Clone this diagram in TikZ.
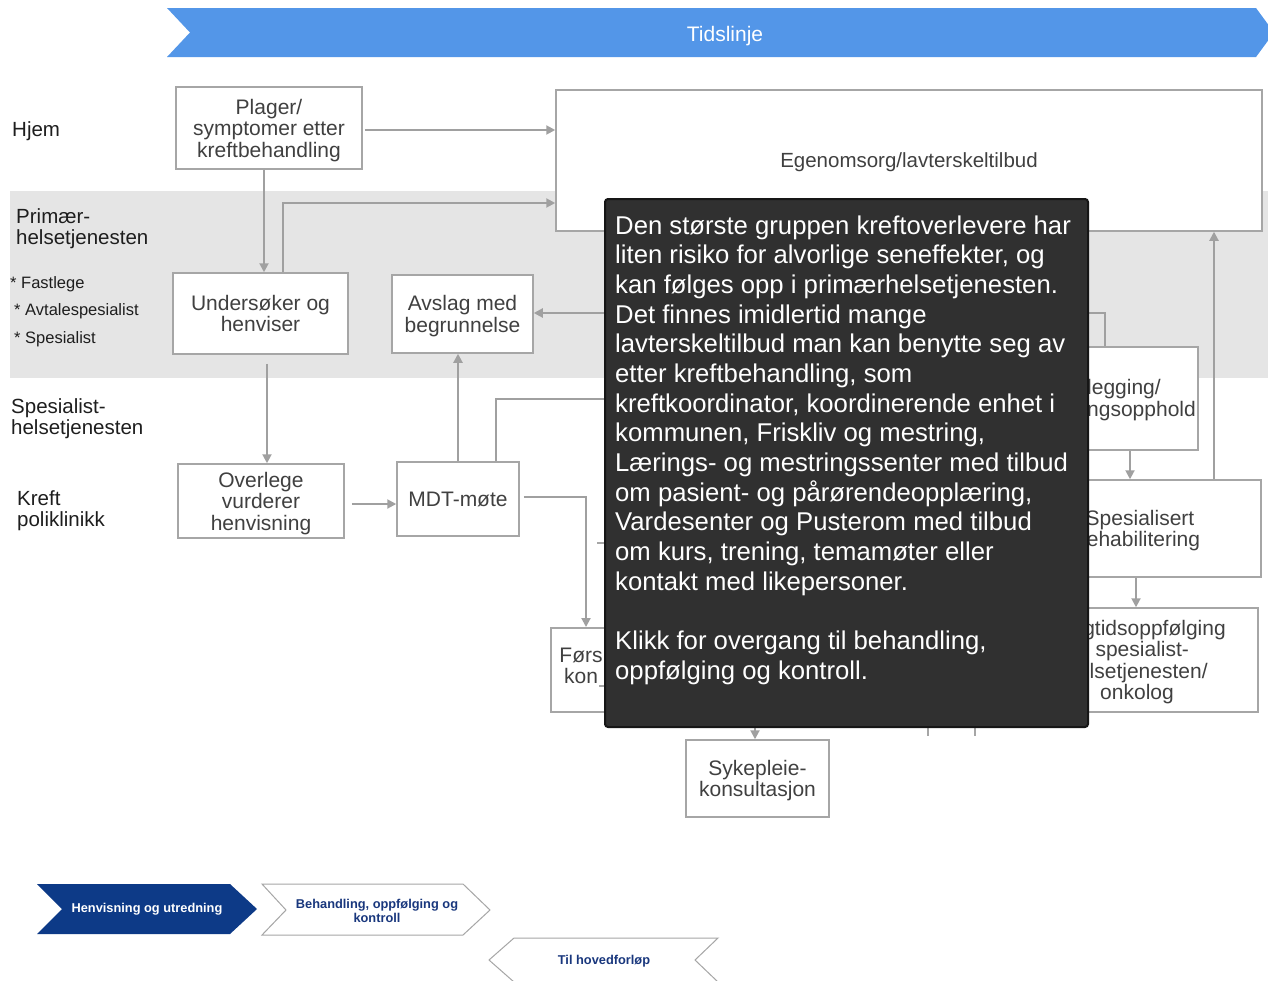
\documentclass[tikz,border=0pt]{standalone}
\usepackage{fontspec}
\setmainfont{Liberation Sans}
\usetikzlibrary{arrows.meta}
\definecolor{boxline}{RGB}{166,166,166}
\definecolor{conncol}{RGB}{160,160,160}
\definecolor{boxtext}{RGB}{64,64,64}
\definecolor{labeltext}{RGB}{30,30,30}
\definecolor{bandgray}{RGB}{229,229,229}
\definecolor{timeblue}{RGB}{83,150,232}
\definecolor{navy}{RGB}{13,58,135}
\definecolor{navytext}{RGB}{25,55,125}
\definecolor{popfill}{RGB}{48,48,48}
\definecolor{popedge}{RGB}{22,22,22}
\begin{document}
\begin{tikzpicture}[x=1pt,y=-1pt,
  box/.style={draw=boxline, line width=1.5pt, fill=white, text=boxtext,
    font=\fontsize{21}{21.5}\selectfont, align=center, inner sep=0pt, text depth=0pt},
  boxtxt/.style={text=boxtext, font=\fontsize{21}{21.5}\selectfont, inner sep=0pt},
  conn/.style={draw=conncol, line width=2pt, -{Triangle[length=9pt,width=9pt]}},
  plainline/.style={draw=conncol, line width=2pt},
  lane/.style={text=labeltext, font=\fontsize{20.5}{21.5}\selectfont, align=left, inner sep=0pt, anchor=north west},
  sublane/.style={text=labeltext, font=\fontsize{16.5}{17}\selectfont, inner sep=0pt, anchor=west},
  btntxt/.style={font=\bfseries\fontsize{12.8}{14}\selectfont, align=center, inner sep=0pt},
]
\useasboundingbox (0,0) rectangle (1268,980);
\fill[white] (0,0) rectangle (1268,980);

% swimlane band
\fill[bandgray] (10,191) rectangle (1268,378);

% timeline banner
\fill[timeblue] (167,8) -- (1256,8) -- (1274,32.5) -- (1256,57) -- (167,57) -- (190,32.5) -- cycle;
\node[text=white, font=\fontsize{21}{22}\selectfont, inner sep=0pt, text depth=0pt] (tidslinje) at (725,34) {Tidslinje};

% lane labels
\node[lane] (hjem) at (12,121) {Hjem};
\node[lane] (primaer) at (16,208) {Primær-\\helsetjenesten};
\node[sublane] (fastlege) at (10,284) {* Fastlege};
\node[sublane] (avtale) at (14,311) {* Avtalespesialist};
\node[sublane] (spesial) at (14,339) {* Spesialist};
\node[lane] (spesht) at (11,398) {Spesialist-\\helsetjenesten};
\node[lane] (kreft) at (17,490) {Kreft\\poliklinikk};

% boxes
\node[box, minimum width=186pt, minimum height=82pt] (plager) at (269,128) {Plager/\\symptomer etter\\kreftbehandling};
\node[box, minimum width=706pt, minimum height=141pt, font=\fontsize{20.5}{21.5}\selectfont] (egen) at (909,160.5) {Egenomsorg/lavterskeltilbud};
\node[box, minimum width=175pt, minimum height=81pt] (unders) at (260.5,313.5) {Undersøker og\\henviser};
\node[box, minimum width=141pt, minimum height=78pt] (avslag) at (462.5,314) {Avslag med\\begrunnelse};
\node[box, minimum width=166pt, minimum height=74pt] (over) at (261,501) {Overlege\\vurderer\\henvisning};
\node[box, minimum width=122pt, minimum height=74pt] (mdt) at (458,499) {MDT-møte};
\node[box, minimum width=130pt, minimum height=84pt, anchor=north west] (forste) at (550,627) {};
\node[boxtxt, align=center] (forstetxt) at (581,666) {Førs\\kon};
\node[box, minimum width=143pt, minimum height=77pt, text depth=-4pt] (syk) at (757.5,778.5) {Sykepleie-\\konsultasjon};
\node[box, minimum width=198pt, minimum height=103pt] (legg) at (1099,398.5) {};
\node[boxtxt, align=left, anchor=west] (leggtxt) at (1087,400) {legging/\\ngsopphold};
\node[box, minimum width=242pt, minimum height=97pt] (spes) at (1140,528.5) {Spesialisert\\rehabilitering};
\node[box, minimum width=242pt, minimum height=104pt] (lang) at (1137,660) {Langtidsoppfølging\\i spesialist-\\helsetjenesten/\\onkolog};

% connectors
\draw[conn] ([xshift=2pt,yshift=-2pt]plager.east) -- ([yshift=-2pt]plager.east -| egen.west);
\draw[conn] ([xshift=-5pt]plager.south) -- ([xshift=-5pt]plager.south |- unders.north);
\draw[conn] ([xshift=22.5pt]unders.north) |- ([yshift=-42.5pt]egen.west);
\draw[conn] ([xshift=6.5pt,yshift=-9pt]unders.south) -- ([xshift=6.5pt]unders.south |- over.north);
\draw[conn] ([xshift=7pt,yshift=-3pt]over.east) -- ([yshift=-3pt]mdt.west |- over.east);
\draw[conn] (mdt.north) -- (mdt.north |- avslag.south);
\coordinate (hidA) at (615,399);
\draw[plainline] ([xshift=38pt]mdt.north) |- (hidA);
\coordinate (hidB) at (615,313);
\draw[conn] (hidB) -- (avslag.east |- hidB);
\draw[conn] ([xshift=4pt,yshift=2pt]mdt.east) -| ([xshift=36pt]forste.north west);
\coordinate (hidC) at (1080,313);
\draw[plainline] (hidC) -| ([xshift=6pt]legg.north);
\draw[conn] ([xshift=31pt]legg.south) -- ([xshift=31pt]legg.south |- spes.north);
\draw[conn] ([xshift=74pt]spes.north) -- ([xshift=74pt]spes.north |- egen.south);
\draw[conn] ([xshift=-4pt]spes.south) -- ([xshift=-4pt]spes.south |- lang.north);
\coordinate (hidD) at (755,715);
\draw[conn] (hidD) -- (hidD |- syk.north);

% fragments of covered content at the popup edges
\draw[draw=boxline, line width=1.5pt] (597,543) -- (612,543);
\draw[draw=boxline, line width=1.5pt] (599,686) -- (612,686);
\draw[draw=boxline, line width=1.5pt] (928,718) -- (928,736);
\draw[draw=boxline, line width=1.5pt] (975,718) -- (975,736);
\draw[draw=boxline, line width=1.5pt] (1080,712) -- (1100,712);

% information popup
\node[draw=popedge, line width=2pt, fill=popfill, rounded corners=3pt,
      minimum width=483pt, minimum height=528pt, inner sep=0pt, anchor=north west] (info) at (604,198) {};
\node[text=white, font=\fontsize{25.7}{29.65}\selectfont, align=left, inner sep=0pt, anchor=north west] (infotxt) at (615,215.5)
{Den største gruppen kreftoverlevere har\\
liten risiko for alvorlige seneffekter, og\\
kan følges opp i primærhelsetjenesten.\\
Det finnes imidlertid mange\\
lavterskeltilbud man kan benytte seg av\\
etter kreftbehandling, som\\
kreftkoordinator, koordinerende enhet i\\
kommunen, Friskliv og mestring,\\
Lærings- og mestringssenter med tilbud\\
om pasient- og pårørendeopplæring,\\
Vardesenter og Pusterom med tilbud\\
om kurs, trening, temamøter eller\\
kontakt med likepersoner.\\[29.65pt]
Klikk for overgang til behandling,\\
oppfølging og kontroll.};

% navigation buttons
\fill[navy] (37,884) -- (230,884) -- (257,909) -- (230,934) -- (37,934) -- (62,909) -- cycle;
\node[btntxt, text=white] (henv) at (147,909) {Henvisning og utredning};
\draw[boxline, line width=1pt, fill=white] (262,884) -- (463,884) -- (490,910) -- (463,935) -- (262,935) -- (286,910) -- cycle;
\node[btntxt, text=navytext] (behand) at (377,911) {Behandling, oppfølging og\\kontroll};
\draw[boxline, line width=1pt, fill=white] (489,960) -- (514,938) -- (718,938) -- (695,960) -- (718,982) -- (514,982) -- cycle;
\node[btntxt, text=navytext] (tilhoved) at (604,961) {Til hovedforløp};
\end{tikzpicture}
\end{document}
